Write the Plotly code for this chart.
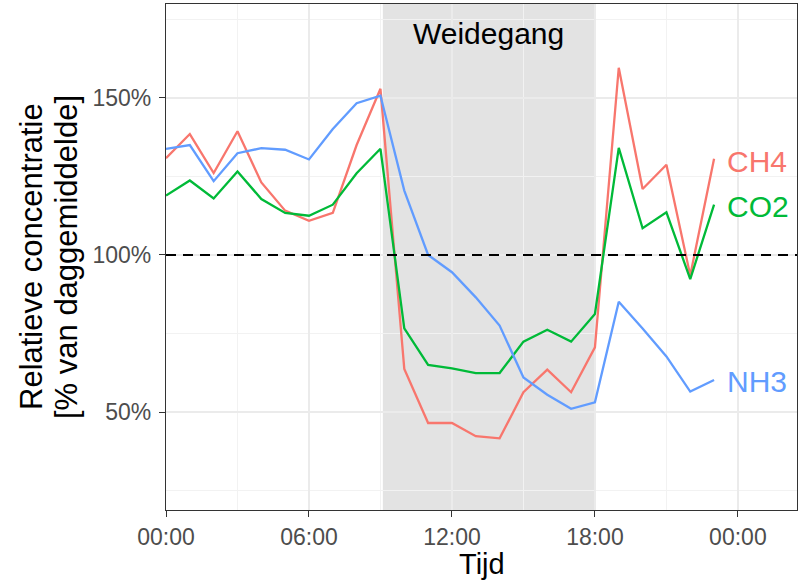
import plotly.graph_objects as go

hours = list(range(24))
ch4 = [130.8, 138.5, 126.1, 139.4, 123.1, 114.1, 110.9, 113.4, 135.0, 152.9, 63.7, 46.5,
       46.5, 42.3, 41.6, 56.3, 63.5, 56.3, 70.6, 159.6, 121.0, 128.7, 93.5, 130.6]
co2 = [118.9, 123.7, 118.0, 126.6, 117.8, 113.4, 112.5, 116.0, 126.0, 133.8, 76.6, 65.0,
       63.9, 62.4, 62.4, 72.4, 76.2, 72.4, 81.2, 134.1, 108.5, 113.6, 92.3, 116.0]
nh3 = [133.8, 135.0, 123.5, 132.4, 134.0, 133.5, 130.4, 140.1, 148.3, 150.7, 120.5, 100.0,
       94.5, 86.5, 77.5, 61.0, 55.5, 51.0, 53.1, 85.1, 76.6, 67.7, 56.5, 60.2]

series_names = ["CH4", "CO2", "NH3"]
series_colors = ["#F8766D", "#00BA38", "#619CFF"]
x_tickvals = [0, 6, 12, 18, 24]
x_ticktext = ["00:00", "06:00", "12:00", "18:00", "00:00"]
y_tickvals = [50, 100, 150]
y_ticktext = ["50%", "100%", "150%"]
graze_start, graze_end = 9.1, 18.0
graze_label = "Weidegang"

FONT = "Liberation Sans, Arial, sans-serif"
X_RANGE = [0, 26.48]
Y_RANGE = [18.8, 179.9]

fig = go.Figure()
for name, vals, col in zip(series_names, [ch4, co2, nh3], series_colors):
    fig.add_trace(go.Scatter(x=hours, y=vals, mode="lines", name=name,
                             line=dict(color=col, width=2.3), showlegend=False))

fig.add_shape(type="rect", xref="x", yref="paper", x0=graze_start, x1=graze_end, y0=0, y1=1,
              fillcolor="rgba(0,0,0,0.11)", line=dict(width=0), layer="between")
fig.add_shape(type="line", xref="paper", yref="y", x0=0, x1=1, y0=100, y1=100,
              line=dict(color="black", width=2, dash="10px,7px"), layer="above")

fig.add_annotation(x=(graze_start + graze_end) / 2, y=170.4, text=graze_label, showarrow=False,
                   font=dict(family=FONT, size=30, color="black"), xanchor="center", yanchor="middle")

label_y = [129.7, 115.4, 59.7]
for name, ly, col in zip(series_names, label_y, series_colors):
    fig.add_annotation(x=23.45, y=ly, text=name, showarrow=False, xanchor="left", yanchor="middle",
                       font=dict(family=FONT, size=30, color=col))

W, H = 803, 583
L, R, T, B = 166, 6, 4, 73
pw, ph = W - L - R, H - T - B

fig.add_annotation(xref="paper", yref="paper", x=(31 - L) / pw, y=0.5, text="Relatieve concentratie",
                   textangle=-90, showarrow=False, xanchor="center", yanchor="middle",
                   font=dict(family=FONT, size=31, color="black"))
fig.add_annotation(xref="paper", yref="paper", x=(66 - L) / pw, y=0.5, text="[% van daggemiddelde]",
                   textangle=-90, showarrow=False, xanchor="center", yanchor="middle",
                   font=dict(family=FONT, size=31, color="black"))
fig.add_annotation(xref="paper", yref="paper", x=0.5, y=(H - B - 564) / ph, text="Tijd",
                   showarrow=False, xanchor="center", yanchor="middle",
                   font=dict(family=FONT, size=29, color="black"))

axis_common = dict(showline=True, linecolor="#333333", linewidth=1.2, mirror=True,
                   ticks="outside", tickcolor="#333333", ticklen=6, tickwidth=1.2,
                   showgrid=True, gridcolor="#EBEBEB", gridwidth=1.6, zeroline=False,
                   tickfont=dict(family=FONT, size=23, color="#4D4D4D"))

fig.update_xaxes(range=X_RANGE, tickmode="array", tickvals=x_tickvals, ticktext=x_ticktext,
                 minor=dict(tickvals=[3, 9, 15, 21], showgrid=True, gridcolor="#F2F2F2",
                            gridwidth=1.2, ticklen=0),
                 **axis_common)
fig.update_yaxes(range=Y_RANGE, tickmode="array", tickvals=y_tickvals, ticktext=y_ticktext,
                 minor=dict(tickvals=[25, 75, 125, 175], showgrid=True, gridcolor="#F2F2F2",
                            gridwidth=1.2, ticklen=0),
                 ticklabelstandoff=3,
                 **axis_common)

fig.update_layout(width=W, height=H, margin=dict(l=L, r=R, t=T, b=B, pad=0),
                  plot_bgcolor="white", paper_bgcolor="white",
                  font=dict(family=FONT))

fig.write_html("out.html", config={"displayModeBar": False},
               post_script="document.body.style.margin='0';")
